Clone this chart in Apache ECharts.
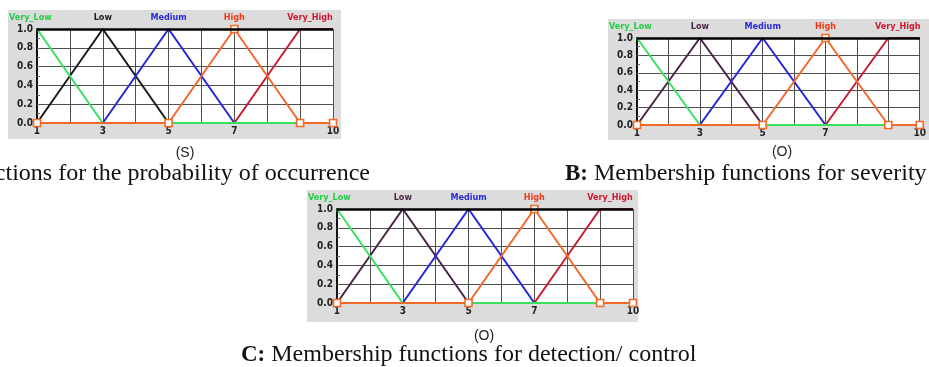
<!DOCTYPE html>
<html>
<head>
<meta charset="utf-8">
<script src="https://cdn.jsdelivr.net/npm/echarts@6/dist/echarts.min.js"></script>
<style>html,body{margin:0;padding:0;background:#fff;}#c{width:929px;height:367px;}</style>
</head>
<body>
<div id="c"></div>
<script>
// ---- data (same membership functions in the three panels) ----
const setNames = ['Very_Low', 'Low', 'Medium', 'High', 'Very_High'];
const veryLow  = [[1, 1], [3, 0], [10, 0]];
const low      = [[1, 0], [3, 1], [5, 0], [10, 0]];
const medium   = [[1, 0], [3, 0], [5, 1], [7, 0], [10, 0]];
const high     = [[1, 0], [5, 0], [7, 1], [9, 0], [10, 0]];
const veryHigh = [[1, 0], [7, 0], [9, 1], [10, 1]];
const xTickLabels = [1, 3, 5, 7, 10];
const yTickLabels = [0, 0.2, 0.4, 0.6, 0.8, 1.0];
const axisTitles = ['(S)', '(O)', '(O)'];
const captions = [
  ['A:', ' Membership functions for the probability of occurrence'],
  ['B:', ' Membership functions for severity'],
  ['C:', ' Membership functions for detection/ control']
];

const chart = echarts.init(document.getElementById('c'));

const grids = [
  {left: 37, top: 29, width: 296, height: 94},
  {left: 637, top: 38, width: 293, height: 87},
  {left: 337, top: 209, width: 296, height: 94}
];
const panels = [
  {x: 8, y: 10, w: 333, h: 129},
  {x: 608, y: 19, w: 330, h: 121},
  {x: 307, y: 190, w: 331, h: 132}
];
const lowColors = ['#1a1a1a', '#4a2346', '#4a2346'];
const seriesColors = {veryLow: '#38e060', medium: '#2626d8', high: '#f26a2a', veryHigh: '#c81c32'};
const labelColors = ['#20d040', null, '#2a2ad8', '#ee3a1a', '#d01830'];

const xAxes = [], yAxes = [], series = [], gridOpts = [];
grids.forEach((g, i) => {
  gridOpts.push(Object.assign({show: true, backgroundColor: '#ffffff', borderWidth: 0}, g));
  xAxes.push({
    type: 'value', gridIndex: i, min: 1, max: 10, interval: 1,
    axisLine: {show: false}, axisTick: {show: false},
    splitLine: {show: true, lineStyle: {color: '#505050', width: 1}},
    axisLabel: {
      margin: 3, fontSize: 10, fontWeight: 'bold', color: '#222', fontFamily: 'DejaVu Sans Condensed, DejaVu Sans',
      formatter: v => xTickLabels.indexOf(v) >= 0 ? String(v) : ''
    }
  });
  yAxes.push({
    type: 'value', gridIndex: i, min: 0, max: 1, interval: 0.2,
    axisLine: {show: true, lineStyle: {color: '#111', width: 2}},
    axisTick: {show: true, inside: true, length: 3, lineStyle: {color: '#666'}},
    minorTick: {show: true, splitNumber: 2, length: 3, lineStyle: {color: '#666'}},
    splitLine: {show: true, lineStyle: {color: '#505050', width: 1}},
    axisLabel: {
      margin: 4, fontSize: 10, fontWeight: 'bold', color: '#222', fontFamily: 'DejaVu Sans Condensed, DejaVu Sans',
      formatter: v => yTickLabels.some(t => Math.abs(t - v) < 1e-9) ? v.toFixed(1) : ''
    }
  });
  const base = {type: 'line', xAxisIndex: i, yAxisIndex: i, symbol: 'none', animation: false};
  series.push(Object.assign({}, base, {name: setNames[1], data: low, lineStyle: {width: 2, color: lowColors[i]}, itemStyle: {color: lowColors[i]}}));
  series.push(Object.assign({}, base, {name: setNames[2], data: medium, lineStyle: {width: 2, color: seriesColors.medium}}));
  series.push(Object.assign({}, base, {name: setNames[4], data: veryHigh, lineStyle: {width: 2, color: seriesColors.veryHigh},
    markLine: {silent: true, symbol: 'none', label: {show: false}, lineStyle: {color: '#000', width: 2.5, type: 'solid'}, data: [{yAxis: 1}]}}));
  series.push(Object.assign({}, base, {name: setNames[0], data: veryLow, lineStyle: {width: 2, color: seriesColors.veryLow}}));
  series.push(Object.assign({}, base, {name: setNames[3], data: high, symbol: 'rect', symbolSize: 7, showAllSymbol: true,
    lineStyle: {width: 2, color: seriesColors.high},
    itemStyle: {color: '#fff', borderColor: seriesColors.high, borderWidth: 1.6}}));
});

const graphic = [];
panels.forEach(p => {
  graphic.push({type: 'rect', z: -10, shape: {x: p.x, y: p.y, width: p.w, height: p.h}, style: {fill: '#dcdcdc'}});
});

chart.setOption({
  backgroundColor: '#ffffff',
  animation: false,
  grid: gridOpts, xAxis: xAxes, yAxis: yAxes, series: series, graphic: graphic
});

// labels above each panel, axis titles, captions
const labelX = [null, 3, 5, 7, 9.3];
grids.forEach((g, i) => {
  const p = panels[i];
  setNames.forEach((n, k) => {
    const col = k === 1 ? lowColors[i] : labelColors[k];
    let x, align;
    if (k === 0) { x = p.x + 1; align = 'left'; }
    else { x = chart.convertToPixel({xAxisIndex: i}, labelX[k]); align = 'center'; }
    graphic.push({type: 'text', z: 10, x: x, y: g.top - 11,
      style: {text: n, fill: col, font: 'bold 9px "DejaVu Sans Condensed", "DejaVu Sans"', textAlign: align, textVerticalAlign: 'middle'}});
  });
});
const titleCenters = [[185, 153], [782, 152], [484, 336]];
axisTitles.forEach((t, i) => {
  graphic.push({type: 'text', x: titleCenters[i][0], y: titleCenters[i][1],
    style: {text: t, fill: '#222', font: '14px "Liberation Sans", Arial', textAlign: 'center', textVerticalAlign: 'middle'}});
});
const capPos = [{x: 370, y: 174, align: 'right'}, {x: 565, y: 174, align: 'left'}, {x: 241, y: 355, align: 'left'}];
captions.forEach((c, i) => {
  graphic.push({type: 'text', x: capPos[i].x, y: capPos[i].y,
    style: {text: '{b|' + c[0] + '}{n|' + c[1] + '}', textAlign: capPos[i].align, textVerticalAlign: 'middle',
      rich: {b: {font: 'bold 23px "Liberation Serif"', fill: '#111'}, n: {font: '24px "Liberation Serif"', fill: '#111'}}}});
});
chart.setOption({graphic: graphic});
</script>
</body>
</html>
